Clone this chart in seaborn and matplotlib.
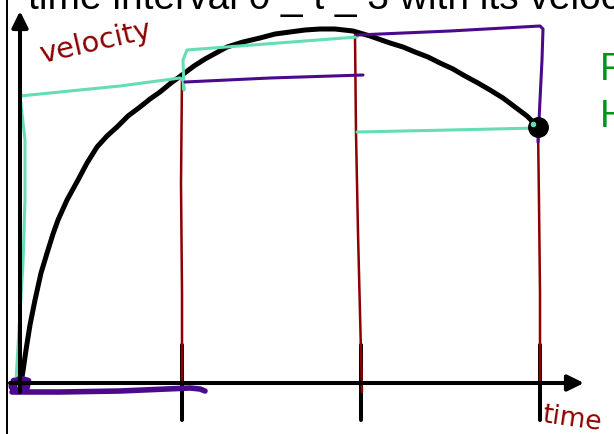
import matplotlib
matplotlib.use("Agg")
import matplotlib.pyplot as plt
import seaborn as sns
import pandas as pd

# --- sketch data: time (horizontal) and velocity (vertical), origin at the axes corner ---
curve_t = [1, 2, 3, 6, 10, 15, 21, 28, 33, 38, 47, 58, 67, 77, 87, 97, 108, 120, 130,
           140, 151, 162, 174, 185, 196, 207, 223, 240, 255, 270, 285, 300, 315, 333,
           350, 370, 383, 395, 408, 420, 433, 445, 458, 470, 483, 495, 507, 518]
curve_v = [0, 6, 12, 33, 58, 83, 110, 133, 149, 163, 183, 203, 220, 236, 247, 256, 267,
           276, 284, 291, 300, 308, 317, 324, 330, 336, 341, 345, 349, 351, 353, 354, 354,
           352, 347, 340, 336, 331, 326, 320, 314, 307, 300, 293, 285, 276, 267, 256]

tick_t = [162, 341, 520]
tick_v = [38, -37]

# partition lines at t = 1, 2, 3 (red)
red1_t, red1_v = [162, 161, 162, 162], [308, 200, 90, 0]
red2_t, red2_v = [335, 336, 338, 341, 342], [348, 250, 150, 30, -9]
red3_t, red3_v = [518, 519, 520, 520], [256, 180, 90, 0]

# right-endpoint rectangles (teal)
teal_t = [-4, 3, 5, 5, 0, 100, 160, 163, 164, 163, 167, 337]
teal_v = [3, 120, 183, 243, 287, 297, 305, 303, 293, 323, 333, 346]
teal2_t = [337, 430, 518]
teal2_v = [251, 253, 255]

# left-endpoint rectangles (purple)
purp0_t = [-8, 40, 100, 170, 180, 185]
purp0_v = [-9, -9, -8, -5, -6, -8]
purp1_t = [165, 250, 343]
purp1_v = [301, 305, 308]
purp2_t = [337, 430, 520, 523, 522, 520, 518]
purp2_v = [348, 352, 357, 354, 323, 283, 241]
blob_t = [-8, 0, 8, 6, -2, -8, -6, 2, 6]
blob_v = [-2, 4, 2, -6, -8, -4, 2, 0, -4]

end_t, end_v = 518, 256

title_text = "time interval 0 _ t _ 3 with its velocity"

RED = "#8C0000"
TEAL = "#66DDB4"
PURPLE = "#4B0A8C"
GREEN = "#009614"

sns.set_theme(style="white")
plt.rcParams["font.family"] = ["Liberation Sans", "DejaVu Sans"]

fig = plt.figure(figsize=(6.14, 4.34), dpi=100)
ax = fig.add_axes([0, 0, 1, 1])
ax.set_xlim(-20, 594)
ax.set_ylim(-51, 383)
ax.axis("off")

# page border
ax.plot([-13, -13], [-60, 400], color="black", lw=1.4, solid_capstyle="butt")

# axes arrows
arrow_style = "-|>,head_length=0.65,head_width=0.32"
ax.annotate("", xy=(0, 372), xytext=(0, -9),
            arrowprops=dict(arrowstyle=arrow_style, color="black", lw=2.9,
                            mutation_scale=15, shrinkA=0, shrinkB=0))
ax.annotate("", xy=(564, 0), xytext=(-10, 0),
            arrowprops=dict(arrowstyle=arrow_style, color="black", lw=2.9,
                            mutation_scale=15, shrinkA=0, shrinkB=0))

# tick marks
for t in tick_t:
    ax.plot([t, t], tick_v, color="black", lw=2.9, solid_capstyle="round")

# partition lines
for xs, ys in [(red1_t, red1_v), (red2_t, red2_v), (red3_t, red3_v)]:
    ax.plot(xs, ys, color=RED, lw=1.8, solid_capstyle="round")

# velocity curve
df = pd.DataFrame({"time": curve_t, "velocity": curve_v})
sns.lineplot(data=df, x="time", y="velocity", sort=False, estimator=None,
             color="black", lw=3.6, ax=ax)
ax.set_xlabel("")
ax.set_ylabel("")

# teal rectangles
ax.plot(teal_t, teal_v, color=TEAL, lw=2.2, solid_capstyle="round", solid_joinstyle="round")
ax.plot(teal2_t, teal2_v, color=TEAL, lw=2.2, solid_capstyle="round")

# purple rectangles
ax.plot(blob_t, blob_v, color=PURPLE, lw=5, solid_capstyle="round", solid_joinstyle="round")
ax.plot(purp0_t, purp0_v, color=PURPLE, lw=4, solid_capstyle="round")
ax.plot(purp1_t, purp1_v, color=PURPLE, lw=2.2, solid_capstyle="round")
ax.plot(purp2_t, purp2_v, color=PURPLE, lw=2.2, solid_capstyle="round", solid_joinstyle="round")

# end point
ax.plot([end_t], [end_v], "o", color="black", ms=14, zorder=6)
ax.plot([end_t - 5], [end_v + 3], "o", color=TEAL, ms=3, zorder=7)

# labels
ax.text(76, 340, "velocity", color=RED, fontsize=21, rotation=13,
        ha="center", va="center", family=["DejaVu Sans"])
ax.text(520, -36, "time", color=RED, fontsize=19, rotation=-8,
        ha="left", va="center", family=["DejaVu Sans"])
ax.text(8, 374, title_text, color="black", fontsize=28, ha="left", va="baseline")
ax.text(580, 303, "F", color=GREEN, fontsize=27, ha="left", va="baseline")
ax.text(580, 256, "H", color=GREEN, fontsize=27, ha="left", va="baseline")

fig.savefig("out.png", dpi=100, facecolor="white")
